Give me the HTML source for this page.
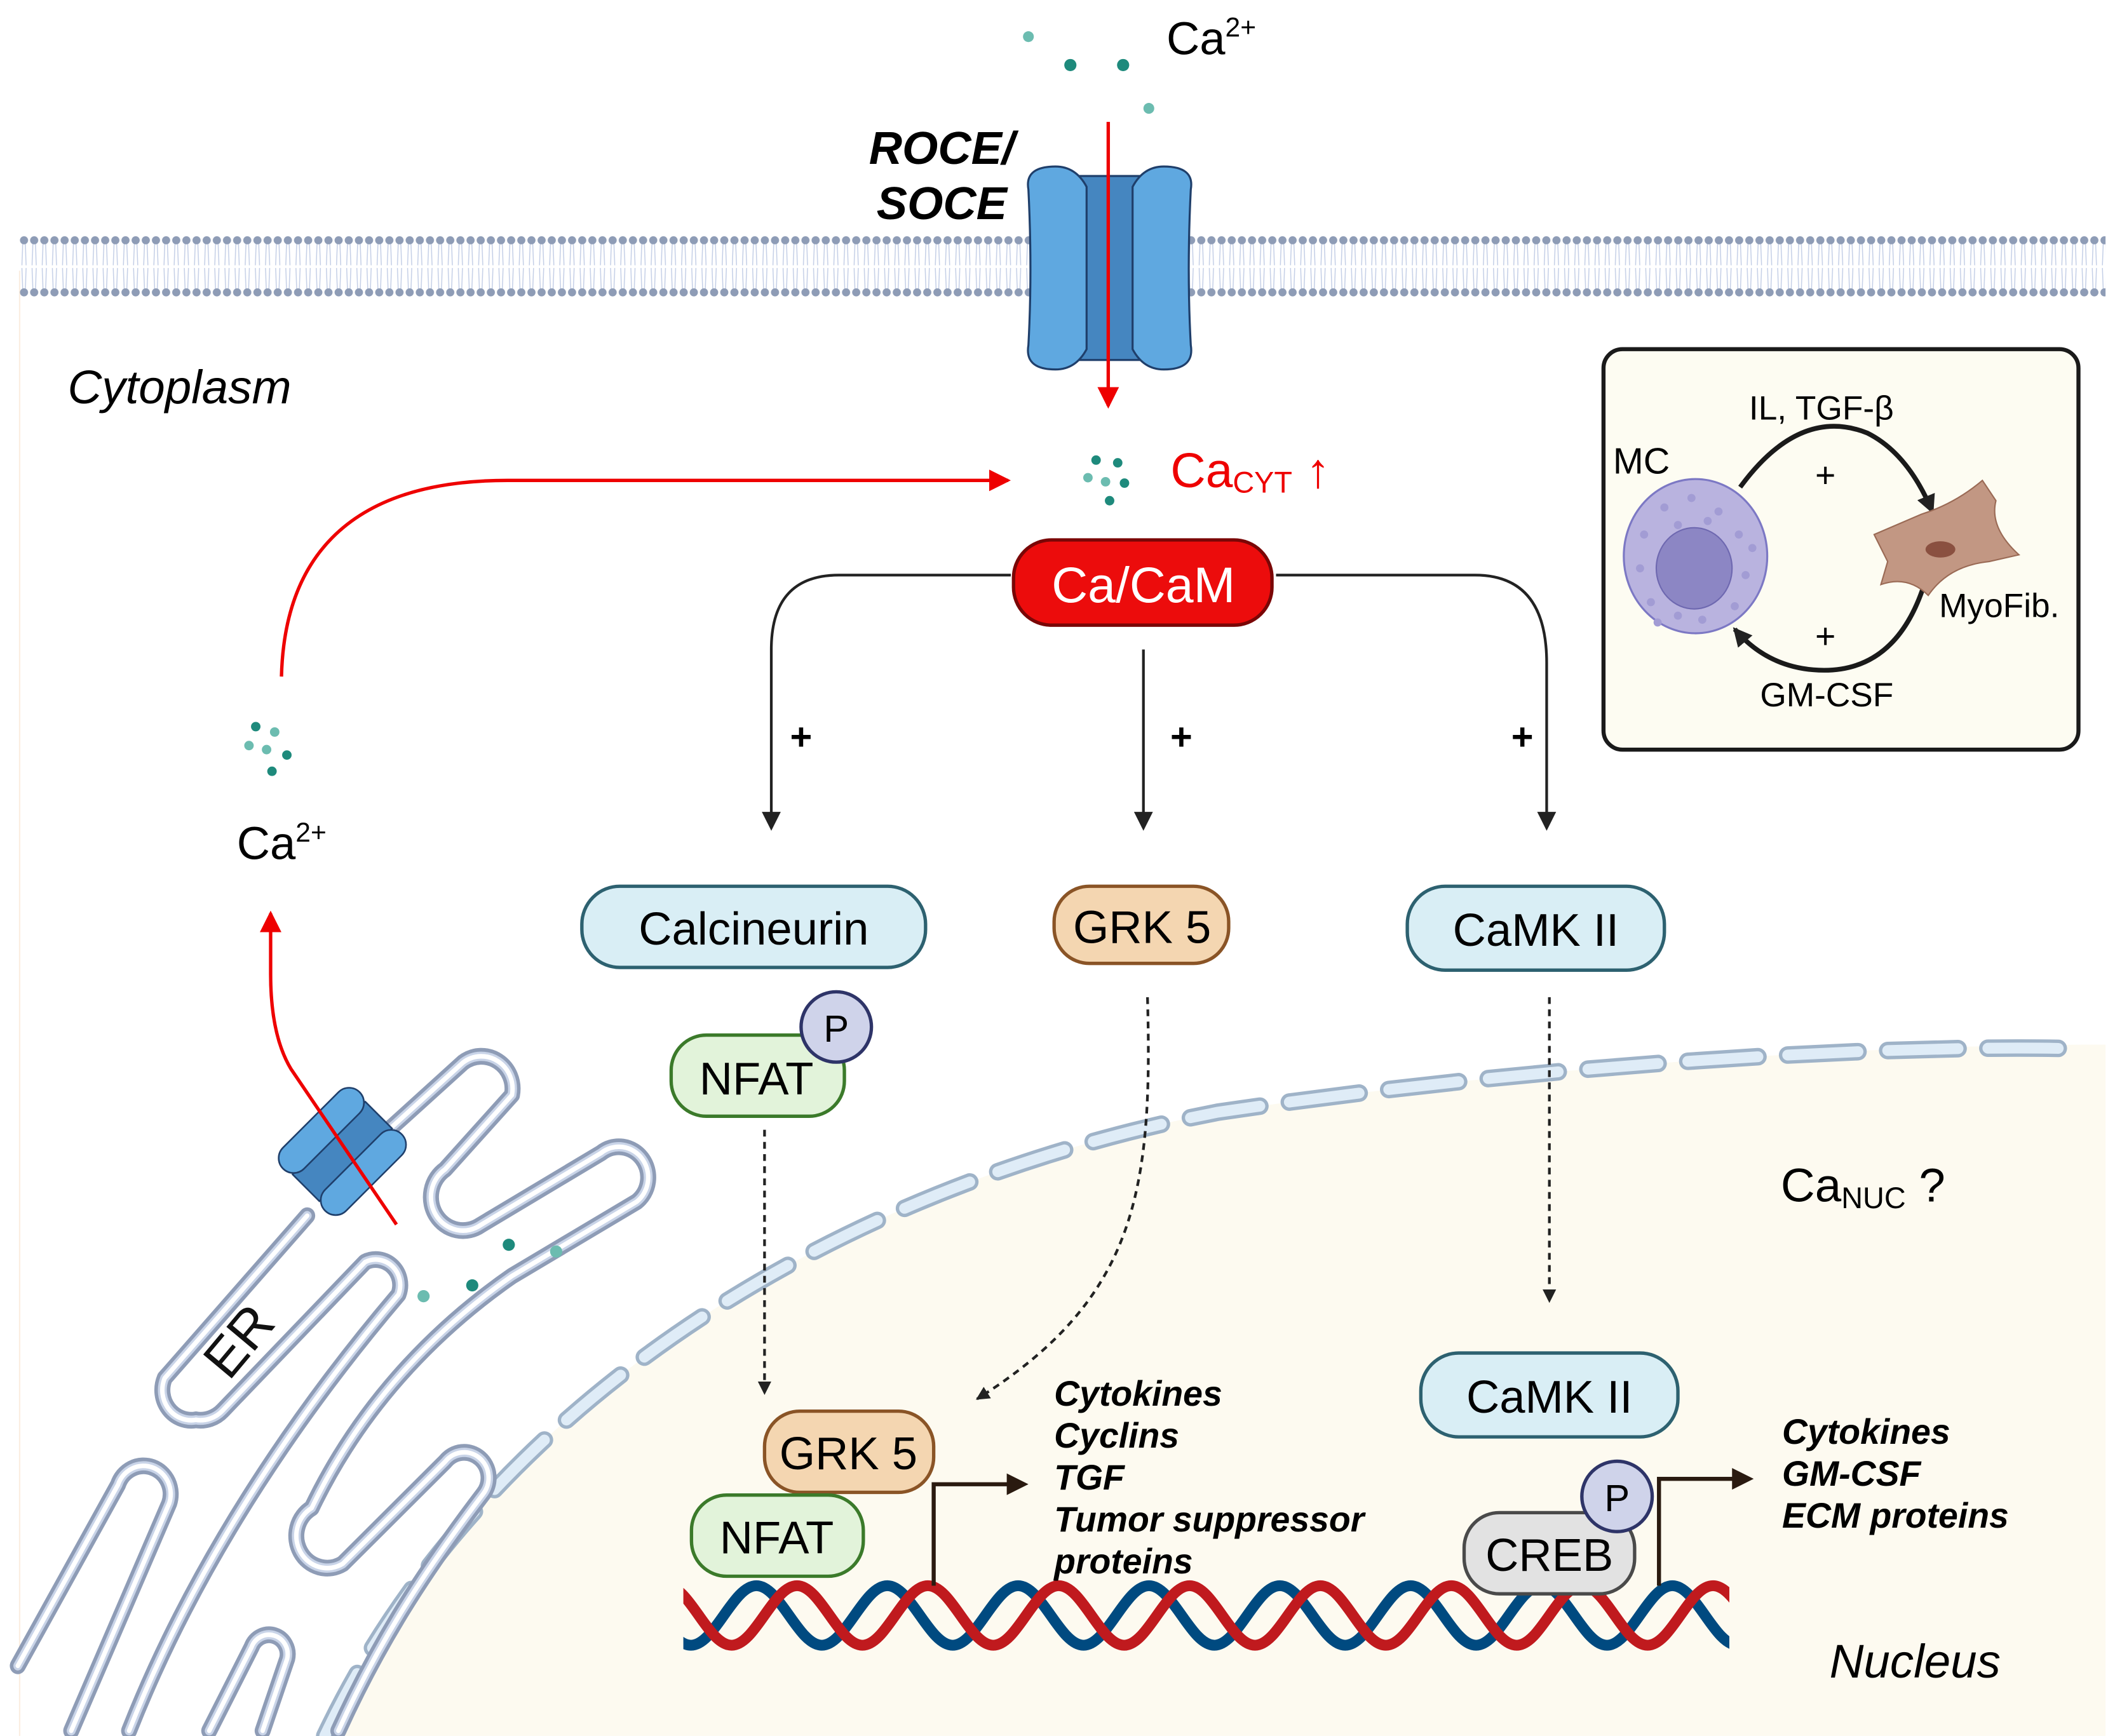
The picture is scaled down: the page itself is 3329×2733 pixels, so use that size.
<!DOCTYPE html>
<html><head><meta charset="utf-8"><style>
html,body{margin:0;padding:0;background:#fff;}
svg{display:block;}
text{font-family:"Liberation Sans",sans-serif;}
</style></head><body>
<svg width="3329" height="2733" viewBox="0 0 1563 1283" xmlns="http://www.w3.org/2000/svg">
<defs>
<pattern id="mem" x="14" y="172" width="7.5" height="50" patternUnits="userSpaceOnUse">
<g stroke="#c3cee6" stroke-width="0.7">
<line x1="2.8" y1="8" x2="2.2" y2="24"/><line x1="4.7" y1="8" x2="5.3" y2="24"/>
<line x1="2.2" y1="26" x2="2.8" y2="42"/><line x1="5.3" y1="26" x2="4.7" y2="42"/>
</g>
<circle cx="3.75" cy="5.5" r="3" fill="#8e9cb6"/>
<circle cx="3.75" cy="44" r="3" fill="#8e9cb6"/>
</pattern>
<marker id="ab" markerWidth="10" markerHeight="10" refX="9" refY="5" orient="auto" markerUnits="userSpaceOnUse"><path d="M0,0 L10,5 L0,10 Z" fill="#222"/></marker>
<marker id="ab2" markerWidth="14" markerHeight="14" refX="12" refY="7" orient="auto" markerUnits="userSpaceOnUse"><path d="M0,0 L14,7 L0,14 Z" fill="#222"/></marker>
<marker id="ar" markerWidth="16" markerHeight="16" refX="14" refY="8" orient="auto" markerUnits="userSpaceOnUse"><path d="M0,0 L16,8 L0,16 Z" fill="#ee0000"/></marker>
<marker id="ad" markerWidth="16" markerHeight="16" refX="8" refY="8" orient="auto" markerUnits="userSpaceOnUse"><path d="M0,0 L16,8 L0,16 Z" fill="#2a1a10"/></marker>
<clipPath id="dnaclip"><rect x="505" y="1160" width="773" height="70"/></clipPath>
</defs>

<rect x="14" y="200" width="1542" height="1083" fill="#fff"/>
<line x1="14.5" y1="200" x2="14.5" y2="1283" stroke="#fbeee0" stroke-width="1"/>
<!-- nucleus -->
<path d="M240,1283 C350,1050 600,880 900,822 C1150,785 1400,772 1556,772 L1556,1283 Z" fill="#fdfaf0"/>
<path d="M240,1283 C350,1050 600,880 900,822 C1150,785 1400,772 1530,775" fill="none" stroke="#9fb3c8" stroke-width="13" stroke-dasharray="52,22" stroke-linecap="round"/>
<path d="M240,1283 C350,1050 600,880 900,822 C1150,785 1400,772 1530,775" fill="none" stroke="#dfecf7" stroke-width="8" stroke-dasharray="52,22" stroke-linecap="round"/>

<!-- membrane -->
<rect x="14" y="172" width="1542" height="50" fill="url(#mem)"/>

<!-- channel -->
<rect x="790" y="130" width="60" height="136" fill="#4586c0" stroke="#1f3f6b" stroke-width="1.5"/>
<path d="M760,140 Q757,123 780,123 Q795,123 803,138 L803,258 Q795,273 780,273 Q757,273 760,255 Q763,200 760,140 Z" fill="#5fa8e0" stroke="#1f3f6b" stroke-width="1.5"/>
<path d="M880,140 Q883,123 860,123 Q845,123 837,138 L837,258 Q845,273 860,273 Q883,273 880,255 Q877,200 880,140 Z" fill="#5fa8e0" stroke="#1f3f6b" stroke-width="1.5"/>
<line x1="819" y1="90" x2="819" y2="300" stroke="#ee0000" stroke-width="2.5" marker-end="url(#ar)"/>

<text x="696" y="121" font-size="34" font-weight="bold" font-style="italic" text-anchor="middle">ROCE/</text>
<text x="696" y="162" font-size="34" font-weight="bold" font-style="italic" text-anchor="middle">SOCE</text>
<text x="862" y="40" font-size="34">Ca<tspan font-size="20" dy="-13">2+</tspan></text>
<g fill="#1e8a7c"><circle cx="791" cy="48" r="4.5"/><circle cx="830" cy="48" r="4.5"/></g>
<g fill="#6cbcb0"><circle cx="760" cy="27" r="4"/><circle cx="849" cy="80" r="4"/></g>

<text x="50" y="298" font-size="35" font-style="italic">Cytoplasm</text>

<g fill="#1e8a7c"><circle cx="810" cy="340" r="3.5"/><circle cx="826" cy="342" r="3.5"/><circle cx="831" cy="357" r="3.5"/><circle cx="820" cy="370" r="3.5"/></g>
<g fill="#6cbcb0"><circle cx="804" cy="353" r="3.5"/><circle cx="817" cy="356" r="3.5"/></g>
<text x="865" y="360" font-size="36" fill="#ee0000">Ca<tspan font-size="22" dy="4">CYT</tspan><tspan dy="-4"> ↑</tspan></text>

<path d="M208,500 C210,420 250,355 375,355 L745,355" fill="none" stroke="#ee0000" stroke-width="2.5" marker-end="url(#ar)"/>

<g fill="#1e8a7c"><circle cx="189" cy="537" r="3.5"/><circle cx="212" cy="558" r="3.5"/><circle cx="201" cy="570" r="3.5"/></g>
<g fill="#6cbcb0"><circle cx="203" cy="541" r="3.5"/><circle cx="184" cy="551" r="3.5"/><circle cx="197" cy="554" r="3.5"/></g>
<text x="175" y="635" font-size="34">Ca<tspan font-size="20" dy="-13">2+</tspan></text>

<rect x="749" y="399" width="191" height="63" rx="28" fill="#ec0c0c" stroke="#7a0606" stroke-width="2.5"/>
<text x="845" y="445" font-size="37" fill="#fff" text-anchor="middle">Ca/CaM</text>

<g fill="none" stroke="#222" stroke-width="2">
<path d="M747,425 L620,425 Q570,425 570,480 L570,612" marker-end="url(#ab2)"/>
<path d="M845,480 L845,612" marker-end="url(#ab2)"/>
<path d="M943,425 L1090,425 Q1143,425 1143,490 L1143,612" marker-end="url(#ab2)"/>
</g>
<g font-size="28" font-weight="bold" text-anchor="middle"><text x="592" y="554">+</text><text x="873" y="554">+</text><text x="1125" y="554">+</text></g>

<!-- Inset -->
<rect x="1185" y="258" width="351" height="296" rx="14" fill="#fdfcf2" stroke="#1a1a1a" stroke-width="3"/>
<text x="1346" y="310" font-size="25" text-anchor="middle">IL, TGF-β</text>
<text x="1192" y="350" font-size="27">MC</text>
<text x="1433" y="456" font-size="25">MyoFib.</text>
<text x="1350" y="522" font-size="25" text-anchor="middle">GM-CSF</text>
<text x="1349" y="360" font-size="26" text-anchor="middle">+</text>
<text x="1349" y="479" font-size="26" text-anchor="middle">+</text>
<path d="M1286,360 Q1330,300 1380,320 Q1410,335 1428,378" fill="none" stroke="#1a1a1a" stroke-width="3.5" marker-end="url(#ab2)"/>
<path d="M1422,432 Q1400,500 1340,495 Q1305,492 1282,465" fill="none" stroke="#1a1a1a" stroke-width="3.5" marker-end="url(#ab2)"/>
<ellipse cx="1253" cy="411" rx="53" ry="57" fill="#b9b3df" stroke="#7c78c4" stroke-width="1.5"/>
<g fill="#a29cd4"><circle cx="1230" cy="375" r="3"/><circle cx="1250" cy="368" r="3"/><circle cx="1270" cy="378" r="3"/><circle cx="1285" cy="395" r="3"/><circle cx="1215" cy="395" r="3"/><circle cx="1212" cy="420" r="3"/><circle cx="1220" cy="445" r="3"/><circle cx="1290" cy="425" r="3"/><circle cx="1282" cy="448" r="3"/><circle cx="1258" cy="458" r="3"/><circle cx="1240" cy="455" r="3"/><circle cx="1262" cy="385" r="3"/><circle cx="1240" cy="388" r="3"/><circle cx="1225" cy="460" r="3"/><circle cx="1295" cy="405" r="3"/></g>
<ellipse cx="1252" cy="420" rx="28" ry="30" fill="#8c86c4" stroke="#6e68b0" stroke-width="1"/>
<path d="M1385,395 L1420,380 Q1445,372 1465,355 L1475,370 Q1470,390 1492,410 L1470,415 Q1440,418 1425,440 Q1410,425 1390,432 L1395,415 Z" fill="#c29783" stroke="#9a6a55" stroke-width="1"/>
<ellipse cx="1434" cy="406" rx="11" ry="6" fill="#8a5040"/>

<!-- protein nodes -->
<rect x="430" y="655" width="254" height="60" rx="28" fill="#d9eef5" stroke="#2d6170" stroke-width="2.5"/>
<text x="557" y="698" font-size="34" text-anchor="middle">Calcineurin</text>
<rect x="779" y="655" width="129" height="57" rx="26" fill="#f4d6b1" stroke="#8a5426" stroke-width="2.5"/>
<text x="844" y="697" font-size="34" text-anchor="middle">GRK 5</text>
<rect x="1040" y="655" width="190" height="62" rx="28" fill="#d9eef5" stroke="#2d6170" stroke-width="2.5"/>
<text x="1135" y="699" font-size="34" text-anchor="middle">CaMK II</text>

<rect x="496" y="765" width="128" height="60" rx="26" fill="#e2f3da" stroke="#3b7a2a" stroke-width="2.5"/>
<text x="559" y="809" font-size="34" text-anchor="middle">NFAT</text>
<circle cx="618" cy="759" r="26" fill="#cfd3ea" stroke="#2e3468" stroke-width="2.5"/>
<text x="618" y="770" font-size="28" text-anchor="middle">P</text>

<g fill="none" stroke="#222" stroke-width="2" stroke-dasharray="5,4">
<path d="M565,835 L565,1030" marker-end="url(#ab)"/>
<path d="M848,737 C852,880 840,960 722,1034" marker-end="url(#ab)"/>
<path d="M1145,737 L1145,962" marker-end="url(#ab)"/>
</g>

<!-- ER -->
<g transform="translate(0,751) scale(0.329,0.343)" fill="none" stroke-linecap="round" stroke-linejoin="round">
<g stroke="#8e9cb6" stroke-width="36">
<path d="M40,1400 L265,1010 A60,60 0 0 1 380,1050 L160,1540"/>
<path d="M470,1540 L565,1360 A42,42 0 0 1 645,1385 L590,1540"/>
<path d="M440,870 A65,65 0 0 1 370,780 L690,430 M810,300 L1040,100 A70,70 0 0 1 1150,170 L1000,330 A60,60 0 0 0 1080,450 L1350,295 A65,65 0 0 1 1430,400 L1150,560 C1000,660 820,820 700,1060 A55,55 0 0 0 770,1180 L1000,960 A55,55 0 0 1 1085,1030 C950,1200 850,1350 760,1540"/>
<path d="M440,870 A70,70 0 0 0 500,850 L820,530 A55,55 0 0 1 895,600 C700,820 450,1150 290,1540"/>
</g>
<g stroke="#c9d4e8" stroke-width="20">
<path d="M40,1400 L265,1010 A60,60 0 0 1 380,1050 L160,1540"/>
<path d="M470,1540 L565,1360 A42,42 0 0 1 645,1385 L590,1540"/>
<path d="M440,870 A65,65 0 0 1 370,780 L690,430 M810,300 L1040,100 A70,70 0 0 1 1150,170 L1000,330 A60,60 0 0 0 1080,450 L1350,295 A65,65 0 0 1 1430,400 L1150,560 C1000,660 820,820 700,1060 A55,55 0 0 0 770,1180 L1000,960 A55,55 0 0 1 1085,1030 C950,1200 850,1350 760,1540"/>
<path d="M440,870 A70,70 0 0 0 500,850 L820,530 A55,55 0 0 1 895,600 C700,820 450,1150 290,1540"/>
</g>
<g stroke="#fff" stroke-width="10">
<path d="M40,1400 L265,1010 A60,60 0 0 1 380,1050 L160,1540"/>
<path d="M470,1540 L565,1360 A42,42 0 0 1 645,1385 L590,1540"/>
<path d="M440,870 A65,65 0 0 1 370,780 L690,430 M810,300 L1040,100 A70,70 0 0 1 1150,170 L1000,330 A60,60 0 0 0 1080,450 L1350,295 A65,65 0 0 1 1430,400 L1150,560 C1000,660 820,820 700,1060 A55,55 0 0 0 770,1180 L1000,960 A55,55 0 0 1 1085,1030 C950,1200 850,1350 760,1540"/>
<path d="M440,870 A70,70 0 0 0 500,850 L820,530 A55,55 0 0 1 895,600 C700,820 450,1150 290,1540"/>
</g>
</g>
<text x="0" y="0" font-size="40" transform="translate(187,1000) rotate(-50)" fill="#111" text-anchor="middle">ER</text>
<g fill="#1e8a7c"><circle cx="349" cy="950" r="4.5"/><circle cx="376" cy="920" r="4.5"/></g>
<g fill="#6cbcb0"><circle cx="313" cy="958" r="4.5"/><circle cx="411" cy="925" r="4.5"/></g>
<g transform="translate(253,851) rotate(45)">
<rect x="-14" y="-38" width="28" height="76" fill="#4586c0" stroke="#1f3f6b" stroke-width="1.2"/>
<rect x="-33" y="-40" width="22" height="80" rx="11" fill="#5fa8e0" stroke="#1f3f6b" stroke-width="1.2"/>
<rect x="11" y="-40" width="22" height="80" rx="11" fill="#5fa8e0" stroke="#1f3f6b" stroke-width="1.2"/>
</g>
<path d="M293,905 L215,790 Q200,765 200,720 L200,675" fill="none" stroke="#ee0000" stroke-width="2.5" marker-end="url(#ar)"/>

<text x="1316" y="888" font-size="35">Ca<tspan font-size="22" dy="5">NUC</tspan><tspan dy="-5"> ?</tspan></text>
<text x="1352" y="1240" font-size="35" font-style="italic">Nucleus</text>

<rect x="1050" y="1000" width="190" height="62" rx="28" fill="#d9eef5" stroke="#2d6170" stroke-width="2.5"/>
<text x="1145" y="1044" font-size="34" text-anchor="middle">CaMK II</text>

<g clip-path="url(#dnaclip)" fill="none" stroke-width="8">
<path stroke="#004a80" d="M462.3,1172 c17.4,0 30.9,44 48.35,44 s30.9,-44 48.35,-44 s30.9,44 48.35,44 s30.9,-44 48.35,-44 s30.9,44 48.35,44 s30.9,-44 48.35,-44 s30.9,44 48.35,44 s30.9,-44 48.35,-44 s30.9,44 48.35,44 s30.9,-44 48.35,-44 s30.9,44 48.35,44 s30.9,-44 48.35,-44 s30.9,44 48.35,44 s30.9,-44 48.35,-44 s30.9,44 48.35,44 s30.9,-44 48.35,-44 s30.9,44 48.35,44 s30.9,-44 48.35,-44 s30.9,44 48.35,44 s30.9,-44 48.35,-44"/>
<path stroke="#c01a1e" d="M492.3,1172 c17.4,0 30.9,44 48.35,44 s30.9,-44 48.35,-44 s30.9,44 48.35,44 s30.9,-44 48.35,-44 s30.9,44 48.35,44 s30.9,-44 48.35,-44 s30.9,44 48.35,44 s30.9,-44 48.35,-44 s30.9,44 48.35,44 s30.9,-44 48.35,-44 s30.9,44 48.35,44 s30.9,-44 48.35,-44 s30.9,44 48.35,44 s30.9,-44 48.35,-44 s30.9,44 48.35,44 s30.9,-44 48.35,-44 s30.9,44 48.35,44 s30.9,-44 48.35,-44 s30.9,44 48.35,44 s30.9,-44 48.35,-44"/>
</g>

<rect x="565" y="1043" width="125" height="60" rx="26" fill="#f4d6b1" stroke="#8a5426" stroke-width="2.5"/>
<text x="627" y="1086" font-size="34" text-anchor="middle">GRK 5</text>
<rect x="511" y="1105" width="127" height="60" rx="26" fill="#e2f3da" stroke="#3b7a2a" stroke-width="2.5"/>
<text x="574" y="1148" font-size="34" text-anchor="middle">NFAT</text>

<rect x="1082" y="1118" width="126" height="60" rx="26" fill="#e2e2e2" stroke="#4a4a4a" stroke-width="2.5"/>
<text x="1145" y="1161" font-size="34" text-anchor="middle">CREB</text>
<circle cx="1195" cy="1106" r="26" fill="#cfd3ea" stroke="#2e3468" stroke-width="2.5"/>
<text x="1195" y="1117" font-size="28" text-anchor="middle">P</text>

<path d="M690,1172 L690,1097 L752,1097" fill="none" stroke="#2a1a10" stroke-width="3" marker-end="url(#ad)"/>
<path d="M1226,1172 L1226,1093 L1288,1093" fill="none" stroke="#2a1a10" stroke-width="3" marker-end="url(#ad)"/>

<g font-size="26" font-weight="bold" font-style="italic">
<text x="779" y="1039">Cytokines</text>
<text x="779" y="1070">Cyclins</text>
<text x="779" y="1101">TGF</text>
<text x="779" y="1132">Tumor suppressor</text>
<text x="779" y="1163">proteins</text>
<text x="1317" y="1067">Cytokines</text>
<text x="1317" y="1098">GM-CSF</text>
<text x="1317" y="1129">ECM proteins</text>
</g>
</svg>
</body></html>
